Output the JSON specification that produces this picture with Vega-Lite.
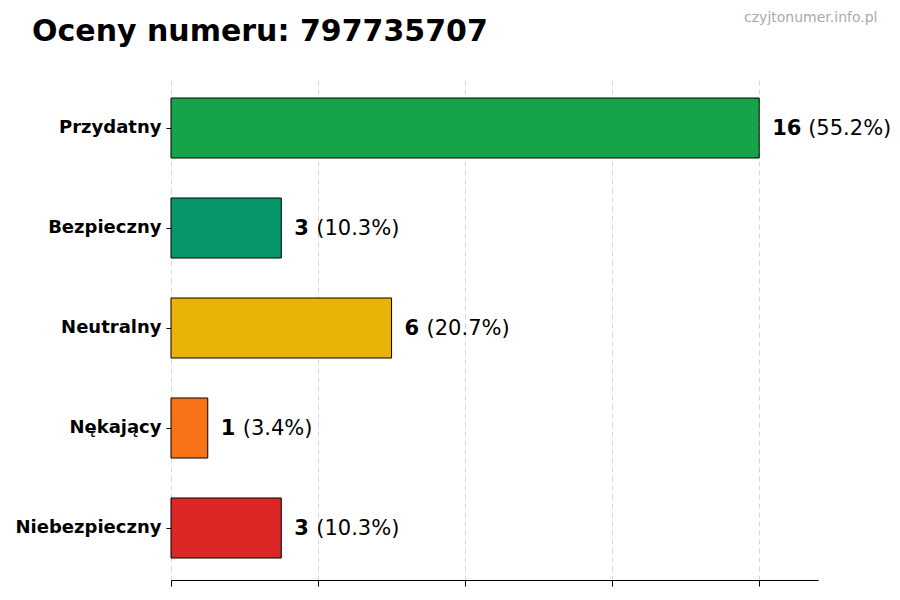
{
  "$schema": "https://vega.github.io/schema/vega-lite/v6.json",
  "width": 647,
  "height": 504,
  "autosize": {"type": "none"},
  "padding": {"left": 171, "top": 76, "right": 82, "bottom": 20},
  "background": "white",
  "config": {
    "font": "DejaVu Sans",
    "view": {"stroke": null}
  },
  "title": {
    "text": "Oceny numeru: 797735707",
    "anchor": "start",
    "frame": "group",
    "dx": -139,
    "fontSize": 30,
    "fontWeight": "bold",
    "color": "black",
    "baseline": "alphabetic",
    "offset": -61
  },
  "data": {
    "values": [
      {"ocena": "Przydatny", "liczba": 16, "procent": "(55.2%)"},
      {"ocena": "Bezpieczny", "liczba": 3, "procent": "(10.3%)"},
      {"ocena": "Neutralny", "liczba": 6, "procent": "(20.7%)"},
      {"ocena": "Nękający", "liczba": 1, "procent": "(3.4%)"},
      {"ocena": "Niebezpieczny", "liczba": 3, "procent": "(10.3%)"}
    ]
  },
  "encoding": {
    "y": {
      "field": "ocena",
      "type": "nominal",
      "sort": ["Przydatny", "Bezpieczny", "Neutralny", "Nękający", "Niebezpieczny"],
      "scale": {"paddingInner": 0.4, "paddingOuter": 0.22},
      "axis": {
        "title": null,
        "domain": false,
        "labelFont": "DejaVu Sans",
        "labelFontSize": 18,
        "labelFontWeight": "bold",
        "labelColor": "black",
        "labelPadding": 5,
        "tickSize": 5,
        "tickColor": "black"
      }
    }
  },
  "layer": [
    {
      "mark": {"type": "bar", "stroke": "black", "strokeWidth": 1},
      "encoding": {
        "x": {
          "field": "liczba",
          "type": "quantitative",
          "scale": {"domain": [0, 17.6], "nice": false},
          "axis": {
            "orient": "bottom",
            "title": null,
            "values": [0, 4, 8, 12, 16],
            "labels": false,
            "domainColor": "black",
            "domainWidth": 1.2,
            "tickColor": "black",
            "tickSize": 6,
            "grid": true,
            "gridColor": "#cccccc",
            "gridDash": [5, 4],
            "gridWidth": 0.8
          }
        },
        "color": {
          "field": "ocena",
          "type": "nominal",
          "legend": null,
          "scale": {
            "domain": ["Przydatny", "Bezpieczny", "Neutralny", "Nękający", "Niebezpieczny"],
            "range": ["#16a34a", "#059669", "#eab308", "#f97316", "#dc2626"]
          }
        }
      }
    },
    {
      "mark": {"type": "text", "align": "left", "baseline": "middle", "dx": 13, "dy": 1, "fontSize": 21, "fontWeight": "bold", "color": "black"},
      "encoding": {
        "x": {
          "field": "liczba",
          "type": "quantitative",
          "axis": {
            "orient": "top",
            "domain": false,
            "ticks": false,
            "labels": false,
            "grid": false,
            "title": "czyjtonumer.info.pl",
            "titleFont": "DejaVu Sans",
            "titleFontSize": 14,
            "titleFontWeight": "normal",
            "titleColor": "#aaaaaa",
            "titleAlign": "right",
            "titleBaseline": "middle",
            "titleAnchor": "end",
            "titleX": 706,
            "titleY": -59
          }
        },
        "text": {"field": "liczba", "type": "quantitative"}
      }
    },
    {
      "transform": [{"filter": "datum.liczba >= 10"}],
      "mark": {"type": "text", "align": "left", "baseline": "middle", "dx": 49, "dy": 1, "fontSize": 21, "color": "black"},
      "encoding": {
        "x": {"field": "liczba", "type": "quantitative", "axis": null},
        "text": {"field": "procent", "type": "nominal"}
      }
    },
    {
      "transform": [{"filter": "datum.liczba < 10"}],
      "mark": {"type": "text", "align": "left", "baseline": "middle", "dx": 35, "dy": 1, "fontSize": 21, "color": "black"},
      "encoding": {
        "x": {"field": "liczba", "type": "quantitative", "axis": null},
        "text": {"field": "procent", "type": "nominal"}
      }
    }
  ],
  "resolve": {"axis": {"x": "independent"}}
}
